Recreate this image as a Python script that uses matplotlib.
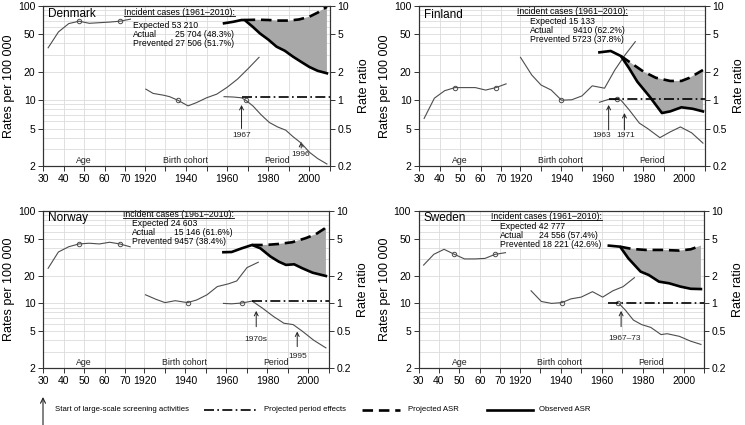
import numpy as np
import matplotlib
matplotlib.use("Agg")
import matplotlib.pyplot as plt
from matplotlib import font_manager
from matplotlib.ticker import LogLocator, NullFormatter, NullLocator

plt.rcParams['font.family'] = 'Liberation Sans'
installed = {f.name for f in font_manager.fontManager.ttflist}
narrow = 'Liberation Sans Narrow' if 'Liberation Sans Narrow' in installed else 'Liberation Sans'

# age groups (midpoints) shared by all countries
ages = [32.5, 37.5, 42.5, 47.5, 52.5, 57.5, 62.5, 67.5, 72.5]

# ---- Denmark
dk_age = [36, 53, 65, 69, 65.5, 66.5, 67.5, 69, 72.5]
dk_coh_year = [1920.5, 1924, 1929, 1932, 1936, 1941, 1945, 1950, 1955, 1960, 1965, 1970, 1975.5]
dk_coh = [13.1, 11.8, 11.3, 10.9, 10.0, 8.7, 9.4, 10.6, 11.6, 13.7, 16.7, 21.4, 28.5]
dk_per_year = [1958.5, 1963, 1967, 1969, 1972.5, 1976.5, 1980.5, 1984.5, 1988.5, 1992, 1996, 2000, 2004, 2008.5]
dk_per = [1.09, 1.08, 1.06, 1.0, 0.87, 0.70, 0.58, 0.52, 0.48, 0.41, 0.35, 0.28, 0.24, 0.21]
dk_eff_year = [1967, 2010]
dk_eff = [1.08, 1.08]
dk_obs_year = [1958.5, 1963, 1967, 1968.5, 1972.5, 1976, 1980, 1984, 1988, 1992, 1996, 2000, 2004, 2008.5]
dk_obs = [65.5, 68, 71, 71, 60, 51, 44, 37, 33.5, 29, 25.5, 22.5, 20.5, 19.3]
dk_exp_year = [1968.5, 1975, 1980, 1985, 1990, 1995, 2000, 2004, 2008.5]
dk_exp = [71, 71.5, 71, 70, 70, 72, 77, 85, 98]
dk_cases = ['53 210', '25 704 (48.3%)', '27 506 (51.7%)']

# ---- Finland
fi_age = [6.4, 10.5, 12.6, 13.6, 13.6, 13.6, 12.8, 13.6, 14.9]
fi_coh_year = [1920, 1925.5, 1930, 1935, 1940, 1945, 1950, 1955, 1961, 1966, 1971, 1976]
fi_coh = [28.5, 18.5, 14.5, 12.8, 10.0, 10.1, 11.1, 14.2, 13.4, 20.9, 30.2, 41.8]
fi_per_year = [1958.5, 1963, 1967, 1969, 1973, 1978, 1982, 1988, 1993, 1998, 2003.5, 2009]
fi_per = [0.95, 1.02, 1.02, 1.0, 0.79, 0.57, 0.50, 0.40, 0.46, 0.52, 0.45, 0.35]
fi_eff_year = [1963, 2010]
fi_eff = [1.02, 1.02]
fi_obs_year = [1958.5, 1964, 1969, 1973, 1977, 1983, 1989, 1993, 1998.5, 2004, 2009]
fi_obs = [32.2, 33.3, 29.4, 21.8, 15.7, 10.9, 7.3, 7.6, 8.4, 8.1, 7.6]
fi_exp_year = [1969, 1973, 1980, 1986, 1993, 1998.5, 2002.5, 2009]
fi_exp = [29.4, 25.6, 20.1, 17.3, 16.0, 16.0, 17.3, 20.9]
fi_cases = ['15 133', '9410 (62.2%)', '5723 (37.8%)']

# ---- Norway
no_age = [24, 36, 41, 44, 44.8, 44, 45.9, 44, 41]
no_coh_year = [1920.5, 1925.5, 1930, 1935, 1941, 1945.5, 1950.5, 1955.5, 1961, 1965, 1970, 1975.5]
no_coh = [12.4, 11.1, 10.2, 10.7, 10.2, 10.9, 12.4, 15.2, 16.3, 17.5, 24.4, 27.9]
no_per_year = [1958.5, 1962.5, 1967.5, 1972.5, 1977.5, 1983, 1988, 1992.5, 1997, 2002.5, 2008.5]
no_per = [1.0, 0.99, 1.01, 1.06, 0.89, 0.72, 0.61, 0.59, 0.50, 0.40, 0.33]
no_eff_year = [1972.5, 2010]
no_eff = [1.06, 1.06]
no_obs_year = [1958.5, 1962.5, 1967.5, 1972.5, 1976.5, 1981.5, 1985.5, 1989, 1993, 1997, 2002, 2008.5]
no_obs = [35.8, 36, 39.5, 42.9, 39.5, 32.1, 28.3, 26.1, 26.5, 24.0, 21.5, 19.8]
no_exp_year = [1972.5, 1979, 1985.5, 1992, 1998.5, 2003.5, 2008.5]
no_exp = [42.9, 42.9, 44, 45.9, 50.7, 56, 66]
no_cases = ['24 603', '15 146 (61.6%)', '9457 (38.4%)']

# ---- Sweden
se_age = [26, 34, 38.5, 34, 30.3, 30.3, 30.7, 34, 35.4]
se_coh_year = [1925.5, 1930.5, 1935.5, 1940.5, 1945, 1950, 1955.5, 1960.5, 1965.5, 1970.5, 1976]
se_coh = [13.7, 10.5, 10.0, 10.2, 11.2, 11.7, 13.4, 11.7, 13.7, 15.2, 19.0]
se_per_year = [1968, 1971.5, 1975.5, 1979.5, 1984, 1989, 1992, 1998, 2003.5, 2008.5]
se_per = [1.02, 0.85, 0.66, 0.59, 0.55, 0.46, 0.47, 0.44, 0.39, 0.36]
se_eff_year = [1963, 2010]
se_eff = [1.02, 1.02]
se_obs_year = [1963.5, 1969, 1973, 1979, 1983, 1988, 1993, 1998.5, 2003.5, 2008.5]
se_obs = [42.2, 41.1, 30.8, 22.1, 20.3, 17.2, 16.5, 15.2, 14.4, 14.3]
se_exp_year = [1969, 1975, 1981.5, 1989.5, 1998, 2003.5, 2008.5]
se_exp = [41.1, 38.8, 37.9, 37.9, 37.3, 38.5, 42.2]
se_cases = ['42 777', '24 556 (57.4%)', '18 221 (42.6%)']

LINE = '#4d4d4d'
DARK = '#222222'


def cal(y):
    # calendar years sit on the same axis as age, after a gap
    return np.asarray(y, dtype=float) - 1840.5


def panel(ax, age, coh_year, coh, coh_ref, per_year, per, per_ref,
          eff_year, eff, obs_year, obs, exp_year, exp):
    ax.set_yscale('log')
    ax.set_xlim(30, cal(2010))
    ax.set_ylim(2, 100)
    ticks = [30, 40, 50, 60, 70] + list(cal(np.arange(1920, 2011, 10)))
    labels = ['30', '40', '50', '60', '70', '1920', '', '1940', '', '1960', '',
              '1980', '', '2000', '']
    ax.set_xticks(ticks, labels=labels)
    ax.set_yticks([2, 5, 10, 20, 50, 100], labels=['2', '5', '10', '20', '50', '100'])
    ax.yaxis.set_minor_locator(LogLocator(subs=np.arange(2, 10)))
    ax.yaxis.set_minor_formatter(NullFormatter())
    ax.tick_params(which='minor', length=0)
    ax.tick_params(which='major', length=3.5, width=0.7, color='#333', labelsize=7.5, pad=2)
    ax.grid(which='both', axis='y', color='#dcdcdc', lw=0.6)
    ax.grid(which='major', axis='x', color='#dcdcdc', lw=0.6)
    ax.set_axisbelow(True)
    for s in ax.spines.values():
        s.set_color('#333')
        s.set_linewidth(0.8)

    # shaded area between projected and observed ASR
    keep = np.asarray(obs_year) >= exp_year[0]
    px = np.concatenate([cal(exp_year), cal(obs_year)[keep][::-1]])
    py = np.concatenate([exp, np.asarray(obs)[keep][::-1]])
    ax.fill(px, py, color='#a8a8a8', lw=0, zorder=2)

    ax.plot(ages, age, color=LINE, lw=0.8, marker='o', ms=3.2, mfc='none',
            mec=LINE, mew=0.7, markevery=[3, 7], zorder=3)
    ax.plot(cal(coh_year), coh, color=LINE, lw=0.8, marker='o', ms=3.2, mfc='none',
            mec=LINE, mew=0.7, markevery=[coh_ref], zorder=3)
    ax.plot(cal(exp_year), exp, color='black', lw=1.9, dashes=(4, 2.2), zorder=4)
    ax.plot(cal(obs_year), obs, color='black', lw=1.9, zorder=5)

    rr = ax.twinx()
    rr.set_yscale('log')
    rr.set_ylim(0.2, 10)
    rr.set_yticks([0.2, 0.5, 1, 2, 5, 10], labels=['0.2', '0.5', '1', '2', '5', '10'])
    rr.yaxis.set_minor_locator(NullLocator())
    rr.tick_params(length=3.5, width=0.7, color='#333', labelsize=7.5, pad=2)
    for s in rr.spines.values():
        s.set_color('#333')
        s.set_linewidth(0.8)
    rr.plot(cal(eff_year), eff, color='black', lw=1.2, dashes=(6, 2, 1, 2), zorder=4)
    rr.plot(cal(per_year), per, color=LINE, lw=0.8, marker='o', ms=3.2, mfc='none',
            mec=LINE, mew=0.7, markevery=[per_ref], zorder=3)

    ax.set_ylabel('Rates per 100 000', fontsize=9, labelpad=2)
    rr.set_ylabel('Rate ratio', fontsize=9, labelpad=4)

    for x, t in [(50, 'Age'), (cal(1939.5), 'Birth cohort'), (cal(1984), 'Period')]:
        ax.text(x, 2.3, t, ha='center', va='center', fontsize=6.3, color='#222')
    return rr


def cases(ax, name, name_y, head_x, head_y, row_x, actual_x, row_y, values):
    ax.text(0.016, name_y, name, transform=ax.transAxes, fontsize=8.5,
            va='center', ha='left')
    head = ax.text(head_x, head_y, 'Incident cases (1961\u20132010):',
                   transform=ax.transAxes, fontsize=6.3, va='center')
    step = 0.057
    kw = dict(transform=ax.transAxes, fontsize=6.2, va='center')
    ax.text(row_x, row_y, 'Expected ' + values[0], **kw)
    ax.text(row_x, row_y - step, 'Actual', **kw)
    ax.text(actual_x, row_y - step, values[1], **kw)
    ax.text(row_x, row_y - 2 * step, 'Prevented ' + values[2], **kw)
    return head


def arrow(ax, year, tail, tip, label, lx, ly):
    ax.annotate('', xy=(cal(year), tip), xytext=(cal(year), tail),
                arrowprops=dict(arrowstyle='->', lw=0.7, color=DARK,
                                shrinkA=0, shrinkB=0, mutation_scale=7))
    ax.text(cal(lx), ly, label, ha='center', va='center', fontsize=6, color=DARK)


fig = plt.figure(figsize=(7.45, 4.25), dpi=100)
W, H = 745, 425


def box(left, top, width, height):
    return [left / W, 1 - (top + height) / H, width / W, height / H]


ax_dk = fig.add_axes(box(43, 6, 287, 160))
ax_fi = fig.add_axes(box(419, 6, 286, 160))
ax_no = fig.add_axes(box(43, 211, 286, 157))
ax_se = fig.add_axes(box(418.5, 211, 285.5, 157))

panel(ax_dk, dk_age, dk_coh_year, dk_coh, 4, dk_per_year, dk_per, 3,
      dk_eff_year, dk_eff, dk_obs_year, dk_obs, dk_exp_year, dk_exp)
panel(ax_fi, fi_age, fi_coh_year, fi_coh, 4, fi_per_year, fi_per, 2,
      fi_eff_year, fi_eff, fi_obs_year, fi_obs, fi_exp_year, fi_exp)
panel(ax_no, no_age, no_coh_year, no_coh, 4, no_per_year, no_per, 2,
      no_eff_year, no_eff, no_obs_year, no_obs, no_exp_year, no_exp)
panel(ax_se, se_age, se_coh_year, se_coh, 3, se_per_year, se_per, 0,
      se_eff_year, se_eff, se_obs_year, se_obs, se_exp_year, se_exp)

heads = [
    cases(ax_dk, 'Denmark', 0.95, 0.282, 0.958, 0.315, 0.46, 0.881, dk_cases),
    cases(ax_fi, 'Finland', 0.944, 0.341, 0.964, 0.3875, 0.5395, 0.902, fi_cases),
    cases(ax_no, 'Norway', 0.957, 0.281, 0.979, 0.312, 0.458, 0.922, no_cases),
    cases(ax_se, 'Sweden', 0.957, 0.253, 0.964, 0.2855, 0.423, 0.90, se_cases),
]

# screening start arrows
arrow(ax_dk, 1967, 5.0, 8.9, '1967', 1967, 4.17)
arrow(ax_dk, 1996, 3.1, 3.6, '1996', 1995.5, 2.62)
arrow(ax_fi, 1963, 4.83, 8.9, '1963', 1959.5, 4.17)
arrow(ax_fi, 1970.7, 4.83, 7.3, '1971', 1971.5, 4.17)
arrow(ax_no, 1974.5, 5.6, 8.3, '1970s', 1974.5, 4.03)
arrow(ax_no, 1994.5, 3.41, 4.96, '1995', 1994.5, 2.66)
arrow(ax_se, 1969.5, 5.6, 8.3, '1967\u201373', 1971.3, 4.2)

# legend along the bottom
ly = 1 - 409.5 / H
ax_no.annotate('', xy=(43, H - 397), xycoords='figure pixels', xytext=(43, -5),
               textcoords='figure pixels', annotation_clip=False,
               arrowprops=dict(arrowstyle='->', lw=0.8, color=DARK, shrinkA=0,
                               shrinkB=0, mutation_scale=9))
fig.text(55 / W, ly, 'Start of large-scale screening activities', fontsize=5.6,
         family=narrow, va='center')
fig.add_artist(plt.Line2D([204 / W, 258 / W], [ly, ly], color='black', lw=1.2,
                          dashes=(6, 2, 1, 2), transform=fig.transFigure))
fig.text(264 / W, ly, 'Projected period effects', fontsize=5.6, family=narrow, va='center')
fig.add_artist(plt.Line2D([362 / W, 400 / W], [ly, ly], color='black', lw=1.9,
                          dashes=(4, 2.2), transform=fig.transFigure))
fig.text(408 / W, ly, 'Projected ASR', fontsize=5.6, family=narrow, va='center')
fig.add_artist(plt.Line2D([487 / W, 533 / W], [ly, ly], color='black', lw=1.9,
                          transform=fig.transFigure))
fig.text(539 / W, ly, 'Observed ASR', fontsize=5.6, family=narrow, va='center')

# underline the "Incident cases" headings
fig.canvas.draw()
for t in heads:
    bb = t.get_window_extent().transformed(fig.transFigure.inverted())
    fig.add_artist(plt.Line2D([bb.x0, bb.x1], [bb.y0 + 0.002, bb.y0 + 0.002], color='black',
                              lw=0.6, transform=fig.transFigure))

fig.savefig('out.png', dpi=100)
